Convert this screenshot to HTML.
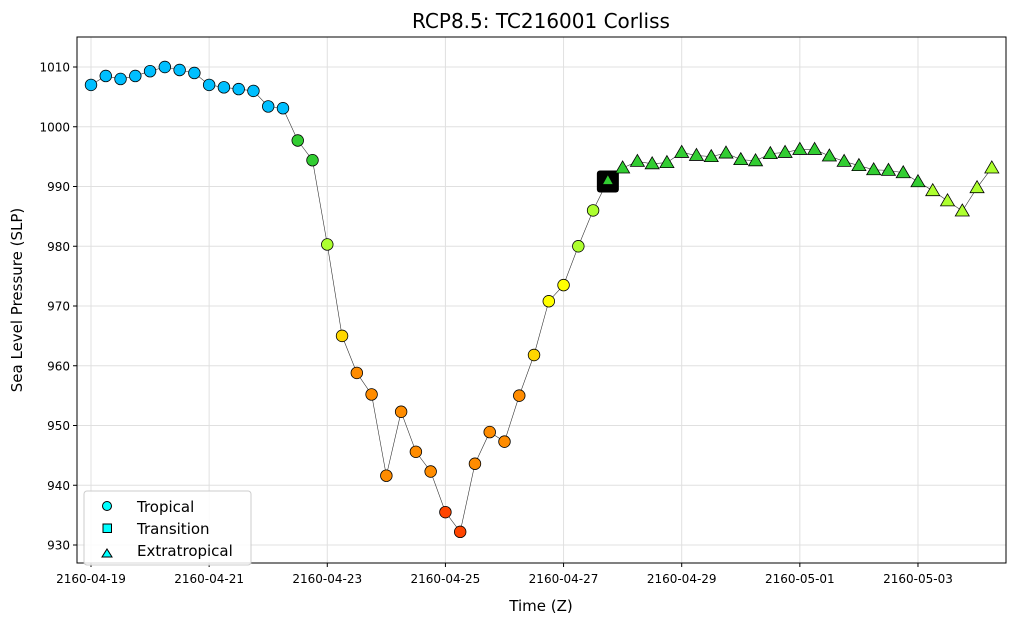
<!DOCTYPE html>
<html><head><meta charset="utf-8"><style>
body{margin:0;background:#fff;font-family:"Liberation Sans","DejaVu Sans",sans-serif}
svg{display:block}
</style></head><body>
<svg id="chart" width="1015" height="629" font-family="'DejaVu Sans','Liberation Sans',sans-serif">
<rect x="0" y="0" width="1015" height="629" fill="#fff"/>
<g id="grid"></g>
<g id="track"></g>
<g id="marks"></g>
<rect x="77" y="37" width="929" height="526" fill="none" stroke="#000" stroke-width="1"/>
<g id="axes"></g>
<text x="541" y="28" text-anchor="middle" font-size="20">RCP8.5: TC216001 Corliss</text>
<text x="541" y="611" text-anchor="middle" font-size="15">Time (Z)</text>
<text transform="translate(22,300) rotate(-90)" text-anchor="middle" font-size="15">Sea Level Pressure (SLP)</text>
<g>
<rect x="84" y="491" width="167" height="74" rx="3" fill="#fff" fill-opacity="0.85" stroke="#ccc"/>
<circle cx="107" cy="506" r="4.5" fill="#00ffff" stroke="#000"/>
<text x="137" y="512" font-size="15">Tropical</text>
<rect x="103" y="524" width="8.5" height="8.5" fill="#00ffff" stroke="#000"/>
<text x="137" y="534" font-size="15">Transition</text>
<polygon points="107,549 112,557 102,557" fill="#00ffff" stroke="#000"/>
<text x="137" y="556" font-size="15">Extratropical</text>
</g>
</svg>
<script>
const yTicks=[930,940,950,960,970,980,990,1000,1010];
const xTickLabels=["2160-04-19","2160-04-21","2160-04-23","2160-04-25","2160-04-27","2160-04-29","2160-05-01","2160-05-03"];
const xTickDays=[0,2,4,6,8,10,12,14];
const slp=[1007,1008.5,1008,1008.5,1009.3,1010,1009.5,1009,1007,1006.6,1006.3,1006,1003.4,1003.1,997.7,994.4,980.3,965,958.8,955.2,941.6,952.3,945.6,942.3,935.5,932.2,943.6,948.9,947.3,955,961.8,970.8,973.5,980,986,991,993.1,994.2,993.8,994,995.7,995.2,995,995.6,994.5,994.3,995.5,995.7,996.2,996.2,995.1,994.2,993.5,992.8,992.7,992.3,990.8,989.3,987.6,985.9,989.8,993.1];
const phase=["T","T","T","T","T","T","T","T","T","T","T","T","T","T","T","T","T","T","T","T","T","T","T","T","T","T","T","T","T","T","T","T","T","T","T","X","E","E","E","E","E","E","E","E","E","E","E","E","E","E","E","E","E","E","E","E","E","E","E","E","E","E"];
const colors=["#00bfff","#00bfff","#00bfff","#00bfff","#00bfff","#00bfff","#00bfff","#00bfff","#00bfff","#00bfff","#00bfff","#00bfff","#00bfff","#00bfff","#32cd32","#32cd32","#adff2f","#ffd700","#ff8c00","#ff8c00","#ff8c00","#ff8c00","#ff8c00","#ff8c00","#ff4500","#ff4500","#ff8c00","#ff8c00","#ff8c00","#ff8c00","#ffd700","#ffff00","#ffff00","#adff2f","#adff2f","#32cd32","#32cd32","#32cd32","#32cd32","#32cd32","#32cd32","#32cd32","#32cd32","#32cd32","#32cd32","#32cd32","#32cd32","#32cd32","#32cd32","#32cd32","#32cd32","#32cd32","#32cd32","#32cd32","#32cd32","#32cd32","#32cd32","#adff2f","#adff2f","#adff2f","#adff2f","#adff2f"];
const NS="http://www.w3.org/2000/svg";
function X(day){return 91+day*59.07;}
function Y(v){return 67+(1010-v)*5.975;}
function mk(tag,attrs,parent){const e=document.createElementNS(NS,tag);for(const k in attrs)e.setAttribute(k,attrs[k]);document.getElementById(parent).appendChild(e);return e;}
yTicks.forEach(v=>{
  const g=mk('line',{x1:77,x2:1006,y1:Y(v),y2:Y(v),stroke:'#e0e0e0','stroke-width':1},'grid');
  
  
  mk('line',{x1:73,x2:77,y1:Y(v),y2:Y(v),stroke:'#000'},'axes');
  const t=mk('text',{x:70,y:Y(v)+4.5,'text-anchor':'end','font-size':12},'axes');
  t.textContent=v;
  
  
});
xTickDays.forEach((d,i)=>{
  const g=mk('line',{x1:X(d),x2:X(d),y1:37,y2:563,stroke:'#e0e0e0','stroke-width':1},'grid');
  
  
  mk('line',{x1:X(d),x2:X(d),y1:563,y2:567,stroke:'#000'},'axes');
  const t=mk('text',{x:X(d),y:583,'text-anchor':'middle','font-size':12},'axes');
  t.textContent=xTickLabels[i];
  
  
});
const pts=slp.map((v,i)=>[X(i*0.25),Y(v)]);
const line=mk('polyline',{points:pts.map(p=>p.join(',')).join(' '),fill:'none',stroke:'#333','stroke-width':0.6},'track');


slp.forEach((v,i)=>{
  const [x,y]=pts[i];let e;
  if(phase[i]==="T"){
    e=mk('circle',{cx:x,cy:y,r:5.8,fill:colors[i],stroke:'#000','stroke-width':0.8},'marks');
  }else if(phase[i]==="X"){
    const s=mk('rect',{x:x-11,y:y-10,width:22,height:22,rx:3,fill:'#000'},'marks');
    
    
    e=mk('polygon',{points:`${x},${y-6} ${x+5.5},${y+4} ${x-5.5},${y+4}`,fill:colors[i],stroke:'#000','stroke-width':0.8},'marks');
  }else{
    e=mk('polygon',{points:`${x},${y-7} ${x+7},${y+5} ${x-7},${y+5}`,fill:colors[i],stroke:'#000','stroke-width':0.8},'marks');
  }
  
  
});
</script>
</body></html>
